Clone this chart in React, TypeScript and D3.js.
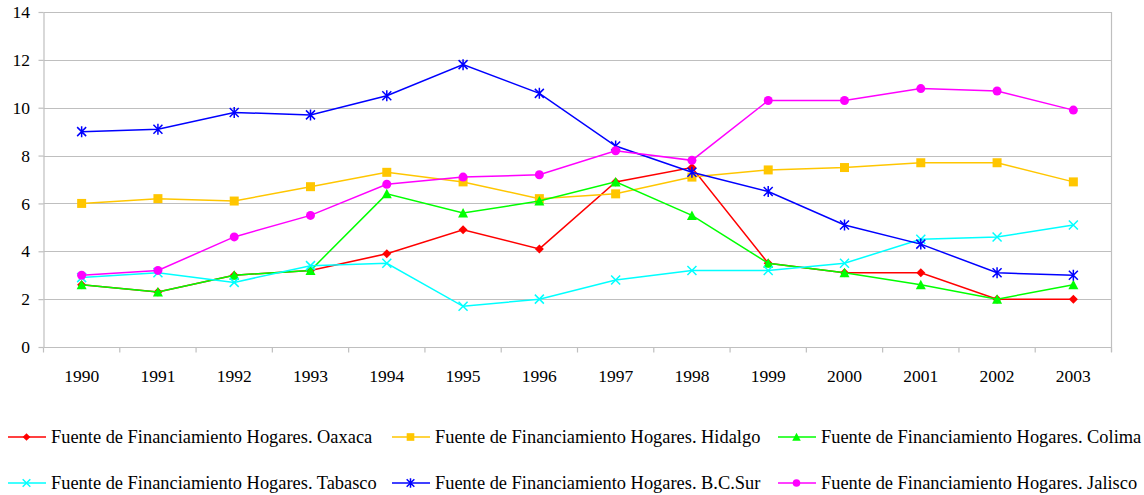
import { useEffect, useRef } from 'react';
import * as d3 from 'd3';

// Years on the x axis
const years = [
  '1990', '1991', '1992', '1993', '1994', '1995', '1996',
  '1997', '1998', '1999', '2000', '2001', '2002', '2003',
];

const yTicks = [0, 2, 4, 6, 8, 10, 12, 14];

// Series values
const oaxaca = [2.6, 2.3, 3.0, 3.2, 3.9, 4.9, 4.1, 6.9, 7.5, 3.5, 3.1, 3.1, 2.0, 2.0];
const hidalgo = [6.0, 6.2, 6.1, 6.7, 7.3, 6.9, 6.2, 6.4, 7.1, 7.4, 7.5, 7.7, 7.7, 6.9];
const colima = [2.6, 2.3, 3.0, 3.2, 6.4, 5.6, 6.1, 6.9, 5.5, 3.5, 3.1, 2.6, 2.0, 2.6];
const tabasco = [2.9, 3.1, 2.7, 3.4, 3.5, 1.7, 2.0, 2.8, 3.2, 3.2, 3.5, 4.5, 4.6, 5.1];
const bcSur = [9.0, 9.1, 9.8, 9.7, 10.5, 11.8, 10.6, 8.4, 7.3, 6.5, 5.1, 4.3, 3.1, 3.0];
const jalisco = [3.0, 3.2, 4.6, 5.5, 6.8, 7.1, 7.2, 8.2, 7.8, 10.3, 10.3, 10.8, 10.7, 9.9];

type Marker = 'diamond' | 'square' | 'triangle' | 'x' | 'star' | 'circle';

const series: { label: string; values: number[]; color: string; marker: Marker }[] = [
  { label: 'Fuente de Financiamiento Hogares. Oaxaca', values: oaxaca, color: '#ff0000', marker: 'diamond' },
  { label: 'Fuente de Financiamiento Hogares. Hidalgo', values: hidalgo, color: '#ffc600', marker: 'square' },
  { label: 'Fuente de Financiamiento Hogares. Colima', values: colima, color: '#00ff00', marker: 'triangle' },
  { label: 'Fuente de Financiamiento Hogares. Tabasco', values: tabasco, color: '#00ffff', marker: 'x' },
  { label: 'Fuente de Financiamiento Hogares. B.C.Sur', values: bcSur, color: '#0000ff', marker: 'star' },
  { label: 'Fuente de Financiamiento Hogares. Jalisco', values: jalisco, color: '#ff00ff', marker: 'circle' },
];

const WIDTH = 1144;
const HEIGHT = 495;
const FONT = "'Liberation Serif', Tinos, 'Times New Roman', 'DejaVu Serif', serif";

/** Marker path centred at 0,0 */
function markerPath(type: Marker, s = 1): string {
  switch (type) {
    case 'diamond':
      return `M0,${-4.5 * s}L${4.5 * s},0L0,${4.5 * s}L${-4.5 * s},0Z`;
    case 'square':
      return `M${-4.5 * s},${-4.5 * s}h${9 * s}v${9 * s}h${-9 * s}Z`;
    case 'triangle':
      return `M0,${-5 * s}L${5 * s},${4.5 * s}L${-5 * s},${4.5 * s}Z`;
    case 'x':
      return `M${-4.5 * s},${-4.5 * s}L${4.5 * s},${4.5 * s}M${4.5 * s},${-4.5 * s}L${-4.5 * s},${4.5 * s}`;
    case 'star':
      return `M${-4.5 * s},${-4.5 * s}L${4.5 * s},${4.5 * s}M${4.5 * s},${-4.5 * s}L${-4.5 * s},${4.5 * s}M0,${-5.5 * s}L0,${5.5 * s}`;
    default:
      return '';
  }
}

export default function App() {
  const svgRef = useRef<SVGSVGElement>(null);

  useEffect(() => {
    if (!svgRef.current) return;
    const svg = d3.select(svgRef.current);
    svg.selectAll('*').remove();

    const left = 43.5;
    const right = 1111.5;
    const top = 12;
    const bottom = 347;

    const x = d3.scaleBand<string>().domain(years).range([left, right]).padding(0);
    const y = d3.scaleLinear().domain([0, 14]).range([bottom, top]);
    const cx = (d: string) => (x(d) ?? 0) + x.bandwidth() / 2;

    svg.append('rect').attr('width', WIDTH).attr('height', HEIGHT).attr('fill', '#ffffff');

    // Grid lines
    svg.selectAll('.grid')
      .data(yTicks.filter((t) => t > 0))
      .enter()
      .append('line')
      .attr('x1', left)
      .attr('x2', right)
      .attr('y1', (d) => Math.round(y(d)) + 0.5)
      .attr('y2', (d) => Math.round(y(d)) + 0.5)
      .attr('stroke', '#bfbfbf')
      .attr('stroke-width', 1.2);

    // Right border
    svg.append('line')
      .attr('x1', right).attr('x2', right)
      .attr('y1', top).attr('y2', bottom + 5)
      .attr('stroke', '#bfbfbf').attr('stroke-width', 1.2);

    // Y axis
    const yAxis = svg.append('g').attr('transform', `translate(${left},0)`)
      .call(d3.axisLeft(y).tickValues(yTicks).tickSize(5).tickSizeOuter(0).tickPadding(8.5));
    yAxis.attr('font-family', null).attr('font-size', null);
    yAxis.select('.domain').attr('stroke', '#bfbfbf').attr('stroke-width', 1.2);
    yAxis.selectAll('line').attr('stroke', '#bfbfbf').attr('stroke-width', 1.2);
    yAxis.selectAll('text')
      .style('font-family', FONT).style('font-size', '17.5px').attr('fill', '#000');

    // X axis: ticks at category boundaries
    const xAxis = svg.append('g').attr('transform', `translate(0,${Math.round(bottom) + 0.5})`);
    xAxis.append('line')
      .attr('x1', left).attr('x2', right)
      .attr('stroke', '#bfbfbf').attr('stroke-width', 1.2);
    const bounds = [...years.map((d) => x(d) ?? 0), right];
    xAxis.selectAll('.tick')
      .data(bounds)
      .enter()
      .append('line')
      .attr('x1', (d) => d).attr('x2', (d) => d)
      .attr('y1', 0).attr('y2', 5)
      .attr('stroke', '#bfbfbf').attr('stroke-width', 1.2);
    xAxis.selectAll('.lbl')
      .data(years)
      .enter()
      .append('text')
      .attr('x', (d) => cx(d))
      .attr('y', 34.5)
      .attr('text-anchor', 'middle')
      .style('font-family', FONT).style('font-size', '17.5px').attr('fill', '#000')
      .text((d) => d);

    // Lines and markers
    const line = d3.line<number>()
      .x((_, i) => cx(years[i]))
      .y((d) => y(d));

    series.forEach((s) => {
      svg.append('path')
        .attr('d', line(s.values))
        .attr('fill', 'none')
        .attr('stroke', s.color)
        .attr('stroke-width', 1.5);

      s.values.forEach((v, i) => {
        const px = cx(years[i]);
        const py = y(v);
        if (s.marker === 'circle') {
          svg.append('circle').attr('cx', px).attr('cy', py).attr('r', 4.5).attr('fill', s.color);
        } else if (s.marker === 'x' || s.marker === 'star') {
          svg.append('path').attr('d', markerPath(s.marker))
            .attr('transform', `translate(${px},${py})`)
            .attr('fill', 'none').attr('stroke', s.color).attr('stroke-width', 1.5);
        } else {
          svg.append('path').attr('d', markerPath(s.marker))
            .attr('transform', `translate(${px},${py})`)
            .attr('fill', s.color);
        }
      });
    });

    // Legend: three columns, two rows
    const colX = [8, 392, 778];
    const rowY = [437, 483];
    series.forEach((s, i) => {
      const lx = colX[i % 3];
      const ly = rowY[Math.floor(i / 3)];
      const g = svg.append('g').attr('transform', `translate(${lx},${ly})`);
      g.append('line').attr('x1', 0).attr('x2', 38).attr('y1', 0).attr('y2', 0)
        .attr('stroke', s.color).attr('stroke-width', 1.5);
      if (s.marker === 'circle') {
        g.append('circle').attr('cx', 18.5).attr('cy', 0).attr('r', 3.8).attr('fill', s.color);
      } else if (s.marker === 'x' || s.marker === 'star') {
        g.append('path').attr('d', markerPath(s.marker, 0.85))
          .attr('transform', 'translate(18.5,0)')
          .attr('fill', 'none').attr('stroke', s.color).attr('stroke-width', 1.5);
      } else {
        g.append('path').attr('d', markerPath(s.marker, 0.85))
          .attr('transform', 'translate(18.5,0)')
          .attr('fill', s.color);
      }
      g.append('text')
        .attr('x', 43)
        .attr('y', 6)
        .style('font-family', FONT).style('font-size', '18.4px').attr('fill', '#000')
        .text(s.label);
    });
  }, []);

  return (
    <svg
      ref={svgRef}
      width={WIDTH}
      height={HEIGHT}
      style={{ position: 'fixed', left: 0, top: 0, display: 'block' }}
    />
  );
}
